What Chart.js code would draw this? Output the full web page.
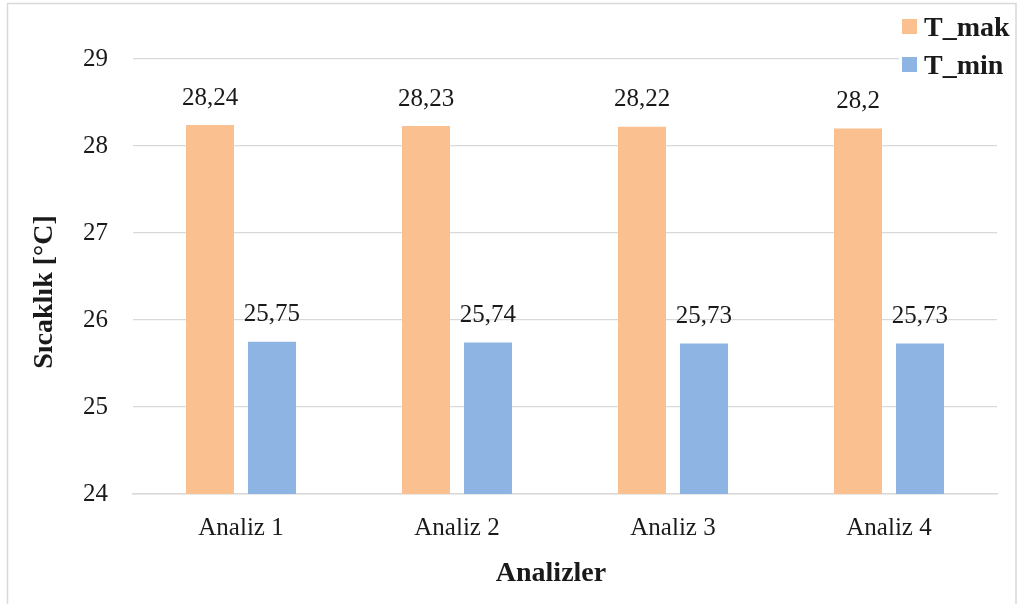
<!DOCTYPE html>
<html>
<head>
<meta charset="utf-8">
<script src="https://cdn.jsdelivr.net/npm/chart.js@4/dist/chart.umd.min.js"></script>
<style>
  html, body { margin: 0; padding: 0; background: #fff; }
  #wrap { width: 1019px; height: 604px; position: relative; }
</style>
</head>
<body>
<div id="wrap"><canvas id="c" width="1019" height="604"></canvas></div>
<script>
// Analysis runs and their max/min temperatures (°C)
const categories = ['Analiz 1', 'Analiz 2', 'Analiz 3', 'Analiz 4'];
const seriesNames = ['T_mak', 'T_min'];
const tMak = [28.24, 28.23, 28.22, 28.2];
const tMin = [25.75, 25.74, 25.73, 25.73];
const yTicks = [24, 25, 26, 27, 28, 29];
const xTitle = 'Analizler';
const yTitle = 'Sıcaklık [°C]';

const COLORS = ['#FAC090', '#8EB4E3'];
const GRID = '#d9d9d9';
const TEXT = '#1a1a1a';
const SERIF = '"Liberation Serif", "Times New Roman", serif';

const fmt = v => String(v).replace('.', ',');

// Frame, axis titles, value labels and legend
const decor = {
  id: 'decor',
  beforeDraw(chart) {
    const ctx = chart.ctx;
    ctx.save();
    ctx.fillStyle = '#fff';
    ctx.fillRect(0, 0, chart.width, chart.height);
    ctx.strokeStyle = GRID;
    ctx.lineWidth = 1.5;
    ctx.strokeRect(7.5, 3.5, 1008.5, 620);
    ctx.restore();
  },
  afterDraw(chart) {
    const ctx = chart.ctx;
    ctx.save();
    // value labels above bars
    ctx.font = '25px ' + SERIF;
    ctx.fillStyle = TEXT;
    ctx.textAlign = 'center';
    ctx.textBaseline = 'middle';
    chart.data.datasets.forEach((ds, di) => {
      chart.getDatasetMeta(di).data.forEach((bar, i) => {
        ctx.fillText(fmt(ds.data[i]), bar.x, bar.y - 27);
      });
    });
    // axis titles
    ctx.font = 'bold 28px ' + SERIF;
    ctx.fillText(xTitle, 551, 574);
    ctx.save();
    ctx.translate(45, 292);
    ctx.rotate(-Math.PI / 2);
    ctx.fillText(yTitle, 0, 0);
    ctx.restore();
    // legend
    ctx.fillStyle = '#fff';
    ctx.fillRect(899, 6, 115, 72);
    ctx.textAlign = 'left';
    chart.data.datasets.forEach((ds, di) => {
      const y = 19 + di * 38;
      ctx.fillStyle = ds.backgroundColor;
      ctx.fillRect(902, y, 15, 15);
      ctx.fillStyle = TEXT;
      ctx.font = 'bold 28px ' + SERIF;
      ctx.fillText(ds.label, 924, y + 10);
    });
    ctx.restore();
  }
};

new Chart(document.getElementById('c'), {
  type: 'bar',
  data: {
    labels: categories,
    datasets: [
      { label: seriesNames[0], data: tMak, backgroundColor: COLORS[0] },
      { label: seriesNames[1], data: tMin, backgroundColor: COLORS[1] }
    ]
  },
  options: {
    responsive: false,
    animation: false,
    devicePixelRatio: 1,
    layout: { padding: { top: 59, right: 22, left: 0, bottom: 0 } },
    datasets: {
      bar: { categoryPercentage: 0.574, barPercentage: 0.774 }
    },
    plugins: {
      legend: { display: false },
      tooltip: { enabled: false }
    },
    scales: {
      x: {
        grid: { display: false, drawTicks: false },
        border: { display: true, color: GRID, width: 1.5 },
        ticks: { color: TEXT, font: { family: SERIF, size: 25 }, padding: 19 },
        afterFit(scale) { scale.height = 110; }
      },
      y: {
        min: yTicks[0],
        max: yTicks[yTicks.length - 1],
        afterBuildTicks(scale) { scale.ticks = yTicks.map(v => ({ value: v })); },
        grid: { color: GRID, lineWidth: 1.2, drawTicks: false },
        border: { display: false },
        ticks: { color: TEXT, font: { family: SERIF, size: 25 }, padding: 25 },
        afterFit(scale) { scale.width = 133; }
      }
    }
  },
  plugins: [decor]
});
</script>
</body>
</html>
